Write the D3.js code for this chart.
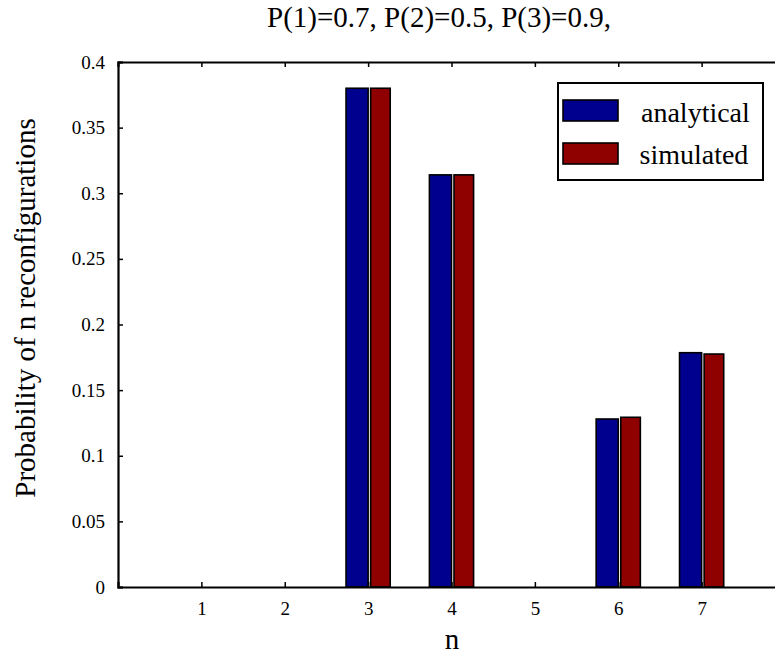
<!DOCTYPE html>
<html>
<head>
<meta charset="utf-8">
<script src="https://cdn.jsdelivr.net/npm/d3@7"></script>
<style>
  body { margin: 0; background: #fff; }
</style>
</head>
<body>
<div id="chart"></div>
<script>
// chart data
const categories = [1, 2, 3, 4, 5, 6, 7];
const analytical = [0, 0, 0.38, 0.314, 0, 0.128, 0.1785];
const simulated = [0, 0, 0.38, 0.314, 0, 0.1293, 0.1775];
const seriesNames = ["analytical", "simulated"];
const seriesColors = ["#00008f", "#8f0000"];
const yTicks = [0, 0.05, 0.1, 0.15, 0.2, 0.25, 0.3, 0.35, 0.4];

const FONT = "'Liberation Serif', 'Times New Roman', serif";
const width = 775, height = 656;
const margin = { top: 62, left: 118, bottom: 69 };
const plotRight = 785; // axis box runs past the window edge

const svg = d3.select("#chart").append("svg")
  .attr("width", width)
  .attr("height", height);

const x = d3.scaleLinear().domain([0, 8]).range([margin.left, plotRight]);
const y = d3.scaleLinear().domain([0, 0.4]).range([height - margin.bottom, margin.top]);

const barW = (x(1) - x(0)) * 0.265;
const gap = 2.5;

// bars
const series = [analytical, simulated];
series.forEach((vals, si) => {
  svg.append("g").selectAll("rect")
    .data(categories)
    .enter()
    .append("rect")
    .attr("x", (d) => si === 0 ? x(d) - barW : x(d) + gap)
    .attr("width", si === 0 ? barW : barW - gap)
    .attr("y", (d, i) => y(vals[i]))
    .attr("height", (d, i) => y(0) - y(vals[i]))
    .attr("fill", seriesColors[si])
    .attr("stroke", (d, i) => vals[i] === 0 ? "#999" : "#000")
    .attr("stroke-width", 1.6);
});

// axes (inward ticks)
const yAxis = d3.axisLeft(y).tickValues(yTicks).tickSize(-5).tickPadding(13)
  .tickFormat((d) => d === 0 ? "0" : String(+d.toFixed(2)));
const gy = svg.append("g").attr("transform", `translate(${margin.left},0)`).call(yAxis);

const xAxis = d3.axisBottom(x).tickValues(categories).tickSize(-5).tickPadding(15)
  .tickFormat(d3.format("d"));
const gx = svg.append("g").attr("transform", `translate(0,${y(0)})`).call(xAxis);

const xTop = d3.axisTop(x).tickValues(categories).tickSize(-5).tickFormat("");
const gt = svg.append("g").attr("transform", `translate(0,${margin.top})`).call(xTop);

[gx, gy, gt].forEach((g) => {
  g.attr("font-family", null).attr("font-size", null);
  g.select(".domain").attr("stroke", "#000").attr("stroke-width", 2.2);
  g.selectAll(".tick line").attr("stroke", "#000").attr("stroke-width", 1.5);
  g.selectAll(".tick text")
    .style("font-family", FONT)
    .style("font-size", "19px")
    .attr("fill", "#000");
});

// title and axis labels
svg.append("text")
  .attr("x", 439).attr("y", 27)
  .attr("text-anchor", "middle")
  .style("font-family", FONT).style("font-size", "29px")
  .text("P(1)=0.7, P(2)=0.5, P(3)=0.9,");

svg.append("text")
  .attr("x", 452).attr("y", 649)
  .attr("text-anchor", "middle")
  .style("font-family", FONT).style("font-size", "29px")
  .text("n");

svg.append("text")
  .attr("transform", "translate(35,308) rotate(-90)")
  .attr("text-anchor", "middle")
  .style("font-family", FONT).style("font-size", "29px")
  .text("Probability of n reconfigurations");

// legend
const lg = svg.append("g").attr("transform", "translate(558,83)");
lg.append("rect")
  .attr("width", 205).attr("height", 97)
  .attr("fill", "#fff").attr("stroke", "#000").attr("stroke-width", 2);
seriesNames.forEach((name, i) => {
  lg.append("rect")
    .attr("x", 5).attr("y", 17 + i * 43)
    .attr("width", 55).attr("height", 21)
    .attr("fill", seriesColors[i])
    .attr("stroke", "#000").attr("stroke-width", 1.6);
  lg.append("text")
    .attr("x", 83 - i * 1.5).attr("y", 39 + i * 42)
    .style("font-family", FONT).style("font-size", "28px")
    .text(name);
});
</script>
</body>
</html>
